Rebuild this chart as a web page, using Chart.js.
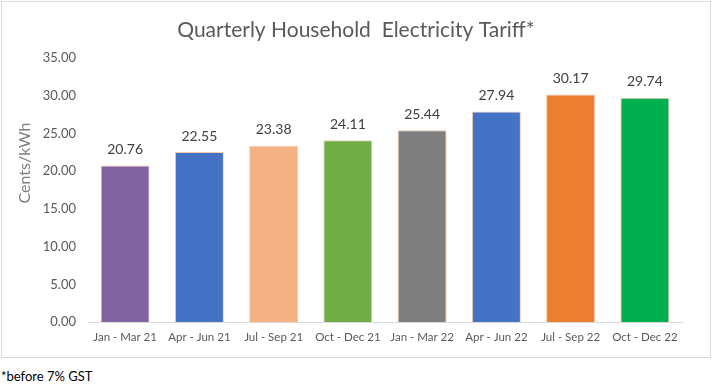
<!DOCTYPE html>
<html>
<head>
<meta charset="utf-8">
<script src="https://cdn.jsdelivr.net/npm/chart.js@4"></script>
<style>
  html, body { margin: 0; padding: 0; background: #fff; }
  #box { position: absolute; left: 1px; top: 1px; width: 708px; height: 355px; border: 1px solid #d9d9d9; }
  #note { position: absolute; left: 1px; top: 368px; font: 13px Lato, sans-serif; color: #000; }
</style>
</head>
<body>
<div id="box"><canvas id="c" width="708" height="355"></canvas></div>
<div id="note">*before 7% GST</div>
<script>
const categories = ["Jan - Mar 21", "Apr - Jun 21", "Jul - Sep 21", "Oct - Dec 21", "Jan - Mar 22", "Apr - Jun 22", "Jul - Sep 22", "Oct - Dec 22"];
const tariff = [20.76, 22.55, 23.38, 24.11, 25.44, 27.94, 30.17, 29.74];
const barColors = ["#8064A2", "#4472C4", "#F4B183", "#70AD47", "#7F7F7F", "#4472C4", "#ED7D31", "#00B050"];
const titleText = "Quarterly Household  Electricity Tariff*";
const yTitle = "Cents/kWh";

const FONT = "Lato, 'Open Sans', sans-serif";

const labelPlugin = {
  id: 'labels',
  afterDatasetsDraw(chart) {
    const ctx = chart.ctx;
    const meta = chart.getDatasetMeta(0);
    ctx.save();
    ctx.font = "14px " + FONT;
    ctx.fillStyle = "#404040";
    ctx.textAlign = "center";
    ctx.textBaseline = "middle";
    meta.data.forEach((bar, i) => {
      ctx.fillText(tariff[i].toFixed(2), bar.x, bar.y - 16);
    });
    // y axis title
    ctx.translate(23, 161);
    ctx.rotate(-Math.PI / 2);
    ctx.font = "16px " + FONT;
    ctx.fillStyle = "#7f7f7f";
    ctx.fillText(yTitle, 0, 0);
    ctx.restore();
  }
};

new Chart(document.getElementById('c'), {
  type: 'bar',
  data: {
    labels: categories,
    datasets: [{
      data: tariff,
      backgroundColor: barColors,
      borderColor: "#F8CBAD",
      borderWidth: 1,
      barPercentage: 0.66,
      categoryPercentage: 1
    }]
  },
  options: {
    responsive: false,
    animation: false,
    layout: { padding: 0 },
    plugins: {
      legend: { display: false },
      tooltip: { enabled: false },
      title: {
        display: true,
        text: titleText,
        color: "#595959",
        font: { family: FONT, size: 21, weight: 'normal', lineHeight: 1.2 },
        padding: { top: 16, bottom: 15 }
      }
    },
    scales: {
      x: {
        grid: { display: false, drawTicks: false },
        border: { display: true, color: "#d9d9d9", width: 1 },
        ticks: { color: "#595959", font: { family: FONT, size: 11.5 }, padding: 8, maxRotation: 0, autoSkip: false },
        afterFit(scale) { scale.height = 35; }
      },
      y: {
        min: 0, max: 35,
        grid: { display: false, drawTicks: false },
        border: { display: false },
        ticks: {
          stepSize: 5, color: "#595959", font: { family: FONT, size: 13 }, padding: 12,
          callback: v => v.toFixed(2)
        },
        afterFit(scale) { scale.width = 86; }
      },
      yRight: {
        position: 'right',
        min: 0, max: 35,
        grid: { display: false, drawTicks: false },
        border: { display: false },
        ticks: { display: false },
        afterFit(scale) { scale.width = 28; }
      }
    }
  },
  plugins: [labelPlugin]
});
</script>
</body>
</html>
